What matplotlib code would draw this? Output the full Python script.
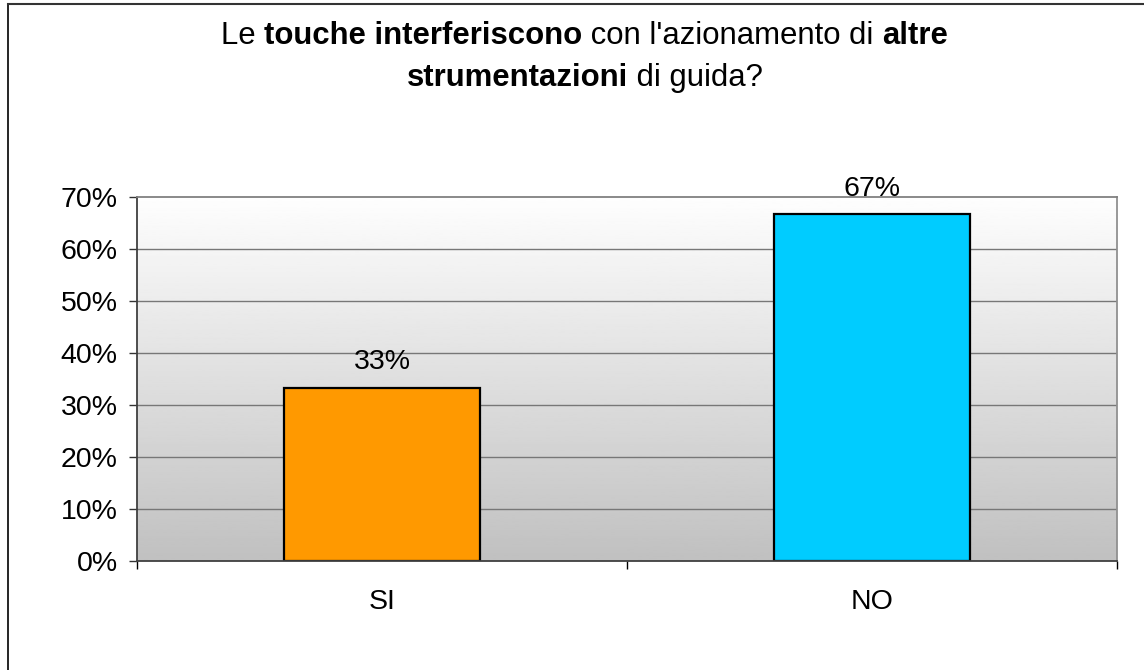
import numpy as np
import matplotlib
matplotlib.use("Agg")
import matplotlib.pyplot as plt
from matplotlib.lines import Line2D
from matplotlib.offsetbox import TextArea, HPacker, VPacker, AnnotationBbox
from matplotlib.ticker import FixedLocator, PercentFormatter

plt.rcParams['font.family'] = ['Liberation Sans', 'DejaVu Sans']

# data
categories = ['SI', 'NO']
shares = [1 / 3, 2 / 3]
bar_colors = ['#FF9900', '#00CCFF']
y_ticks = [0, 0.1, 0.2, 0.3, 0.4, 0.5, 0.6, 0.7]

# title pieces: (text, bold)
title_line1 = [("Le ", False), ("touche interferiscono", True),
               (" con l'azionamento di ", False), ("altre", True)]
title_line2 = [("strumentazioni", True), (" di guida?", False)]

W, H = 1144, 670
fig = plt.figure(figsize=(W / 100, H / 100), dpi=100)
ax = fig.add_axes([137 / W, 1 - 561 / H, (1117 - 137) / W, (561 - 197) / H])

x = np.arange(len(categories))
ax.set_xlim(-0.5, len(categories) - 0.5)
ax.set_ylim(0, 0.7)

# gradient background, white on top to grey at the bottom
grad = np.linspace(0.754, 0.995, 256).reshape(-1, 1)
ax.imshow(grad, cmap='gray', vmin=0, vmax=1, origin='lower', aspect='auto',
          extent=(-0.5, len(categories) - 0.5, 0, 0.7), zorder=0)

for v in y_ticks[1:-1]:
    ax.axhline(v, color='#777777', lw=1.0, zorder=1)

bars = ax.bar(x, shares, width=0.4, color=bar_colors, edgecolor='black',
              linewidth=1.6, zorder=3)

for rect, v in zip(bars, shares):
    ax.annotate(f"{v:.0%}", (rect.get_x() + rect.get_width() / 2, v),
                xytext=(0, 13.5), textcoords='offset points',
                ha='center', va='baseline', fontsize=20.5, color='black', zorder=4)

ax.yaxis.set_major_locator(FixedLocator(y_ticks))
ax.yaxis.set_major_formatter(PercentFormatter(1.0, decimals=0))
ax.set_xticks(x)
ax.set_xticklabels(categories)
ax.set_xticks(np.arange(-0.5, len(categories)), minor=True)
ax.tick_params(axis='x', which='major', length=0, pad=20, labelsize=20.5)
ax.tick_params(axis='x', which='minor', length=6, width=1, color='black', direction='out')
ax.tick_params(axis='y', length=6, width=1, color='#333333', direction='out',
               pad=8, labelsize=20.5)

ax.spines['top'].set_color('#808080')
ax.spines['right'].set_color('#909090')
ax.spines['left'].set_color('#404040')
ax.spines['bottom'].set_color('#404040')
for s in ax.spines.values():
    s.set_linewidth(1.3)
    s.set_zorder(5)

# title with bold and regular runs
def title_row(pieces):
    areas = [TextArea(t, textprops=dict(fontsize=22.4, fontweight='bold' if b else 'normal',
                                        color='black')) for t, b in pieces]
    return HPacker(children=areas, align='baseline', pad=0, sep=0)

title_box = VPacker(children=[title_row(title_line1), title_row(title_line2)],
                    align='center', pad=0, sep=9)
fig.add_artist(AnnotationBbox(title_box, (584.5 / W, 1 - 57 / H), xycoords='figure fraction',
                              frameon=False, box_alignment=(0.5, 0.5)))

# chart frame (right and bottom edges are outside the picture)
fig.add_artist(Line2D([8 / W, 8 / W], [0, 1 - 4 / H], color='black', lw=1.2))
fig.add_artist(Line2D([8 / W, 1], [1 - 4 / H, 1 - 4 / H], color='#333333', lw=1.5))

fig.savefig('out.png', dpi=100, facecolor='white')
